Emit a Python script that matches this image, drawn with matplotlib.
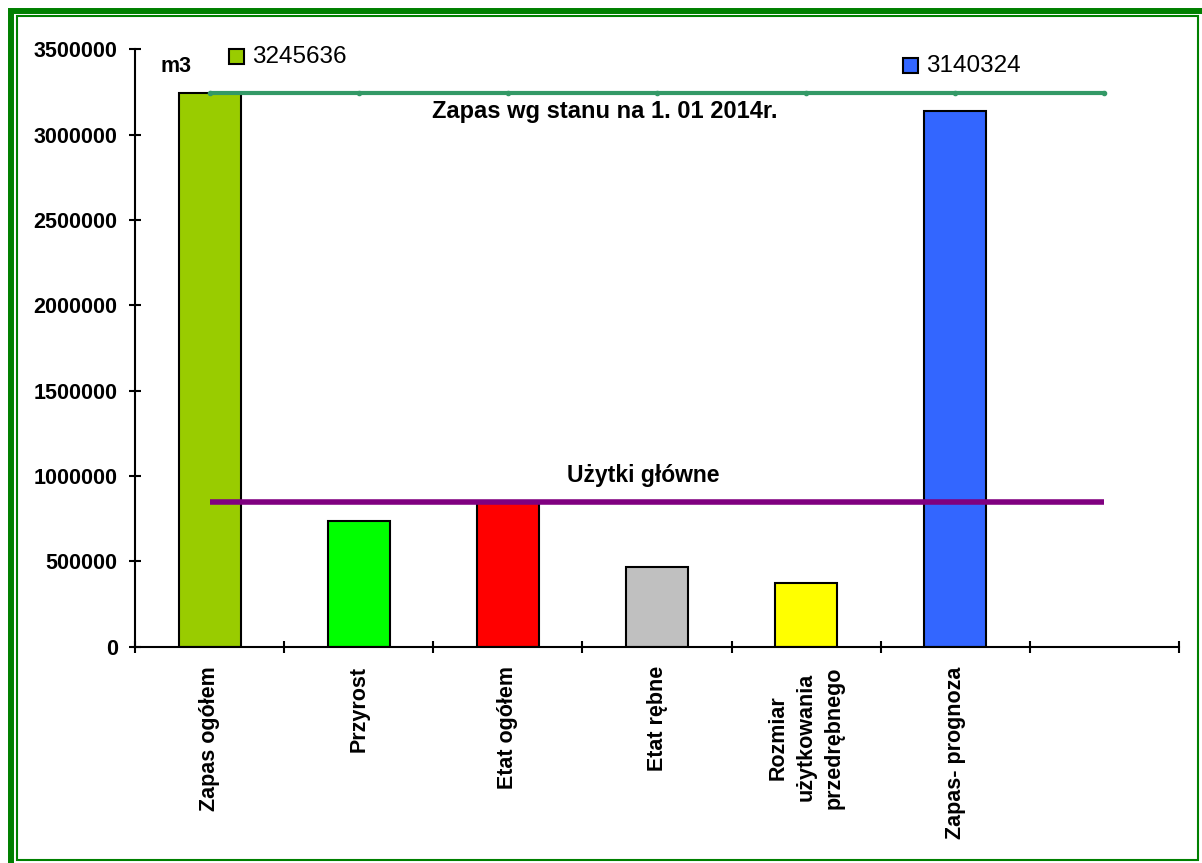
import matplotlib
matplotlib.use("Agg")
import matplotlib.pyplot as plt
from matplotlib.patches import Rectangle
import numpy as np

plt.rcParams['font.family'] = ['Liberation Sans', 'DejaVu Sans']

# --- data -------------------------------------------------------------
categories = ["Zapas ogółem", "Przyrost", "Etat ogółem", "Etat rębne",
              "Rozmiar\nużytkowania\nprzedrębnego", "Zapas- prognoza"]
values = [3245636, 738000, 845000, 467000, 373000, 3140324]
bar_colors = ["#99CC00", "#00FF00", "#FF0000", "#C0C0C0", "#FFFF00", "#3366FF"]
n_slots = 7                      # one empty slot at the right end
stock_ref = 3245636              # "Zapas wg stanu na 1. 01 2014r."
main_use_ref = 850000            # "Użytki główne"
yticks = [0, 500000, 1000000, 1500000, 2000000, 2500000, 3000000, 3500000]

W, H = 1202, 863
fig = plt.figure(figsize=(W / 100, H / 100), dpi=100)


def fx(px):
    return px / W


def fy(py):
    return 1 - py / H


ax = fig.add_axes([fx(135), fy(646.7), fx(1179) - fx(135), fy(49.3) - fy(646.7)])

x = np.arange(len(categories))
ax.bar(x, values, width=0.416, color=bar_colors, edgecolor="black", linewidth=1.5, zorder=2)

xl = np.arange(n_slots)
ax.plot(xl, [stock_ref] * n_slots, color="#339966", lw=3, marker="o", ms=3,
        solid_capstyle="butt", zorder=3)
ax.plot(xl, [main_use_ref] * n_slots, color="#800080", lw=4, solid_capstyle="butt", zorder=3)

ax.set_xlim(-0.5, n_slots - 0.5)
ax.set_ylim(0, 3500000)

for s in ["top", "right"]:
    ax.spines[s].set_visible(False)
for s in ["left", "bottom"]:
    ax.spines[s].set_linewidth(1.5)

ax.set_yticks(yticks)
ax.set_yticklabels([str(v) for v in yticks], fontsize=15.5, fontweight="bold")
ax.tick_params(axis="y", direction="inout", length=8, width=1.5, pad=8.5)

ax.set_xticks(np.arange(n_slots + 1) - 0.5)
ax.set_xticklabels([])
ax.tick_params(axis="x", which="major", direction="inout", length=8, width=1.5)
ax.set_xticks(x, minor=True)
ax.set_xticklabels(categories, minor=True, rotation=90, fontsize=15.5,
                   fontweight="bold", va="top", ha="center", multialignment="center",
                   linespacing=1.45)
ax.tick_params(axis="x", which="minor", length=0, pad=14)

# annotations
fig.text(fx(160), fy(67), "m3", fontsize=15.5, fontweight="bold", va="center", ha="left")
ax.text(2.65, (stock_ref - 110000), "Zapas wg stanu na 1. 01 2014r.", fontsize=17,
        fontweight="bold", ha="center", va="center")
ax.text(2.91, main_use_ref + 155000, "Użytki główne", fontsize=16.5,
        fontweight="bold", ha="center", va="center")

# value labels with colour keys
fig.patches.append(Rectangle((fx(229), fy(64)), fx(15), 15 / H, transform=fig.transFigure,
                             facecolor=bar_colors[0], edgecolor="black", lw=1.5))
fig.text(fx(252), fy(57), f"{values[0]}", fontsize=17.5, va="center", ha="left")
fig.patches.append(Rectangle((fx(903), fy(73)), fx(15), 15 / H, transform=fig.transFigure,
                             facecolor=bar_colors[5], edgecolor="black", lw=1.5))
fig.text(fx(926), fy(66), f"{values[5]}", fontsize=17.5, va="center", ha="left")

# double green frame
fig.patches.append(Rectangle((fx(11), fy(875)), fx(1210 - 11), (875 - 11) / H,
                             transform=fig.transFigure, fill=False,
                             edgecolor="#008000", lw=4.3))
fig.patches.append(Rectangle((fx(16.5), fy(860)), fx(1198 - 16.5), (860 - 16.5) / H,
                             transform=fig.transFigure, fill=False,
                             edgecolor="#008000", lw=1.5))

fig.savefig("out.png", dpi=100, facecolor="white")
